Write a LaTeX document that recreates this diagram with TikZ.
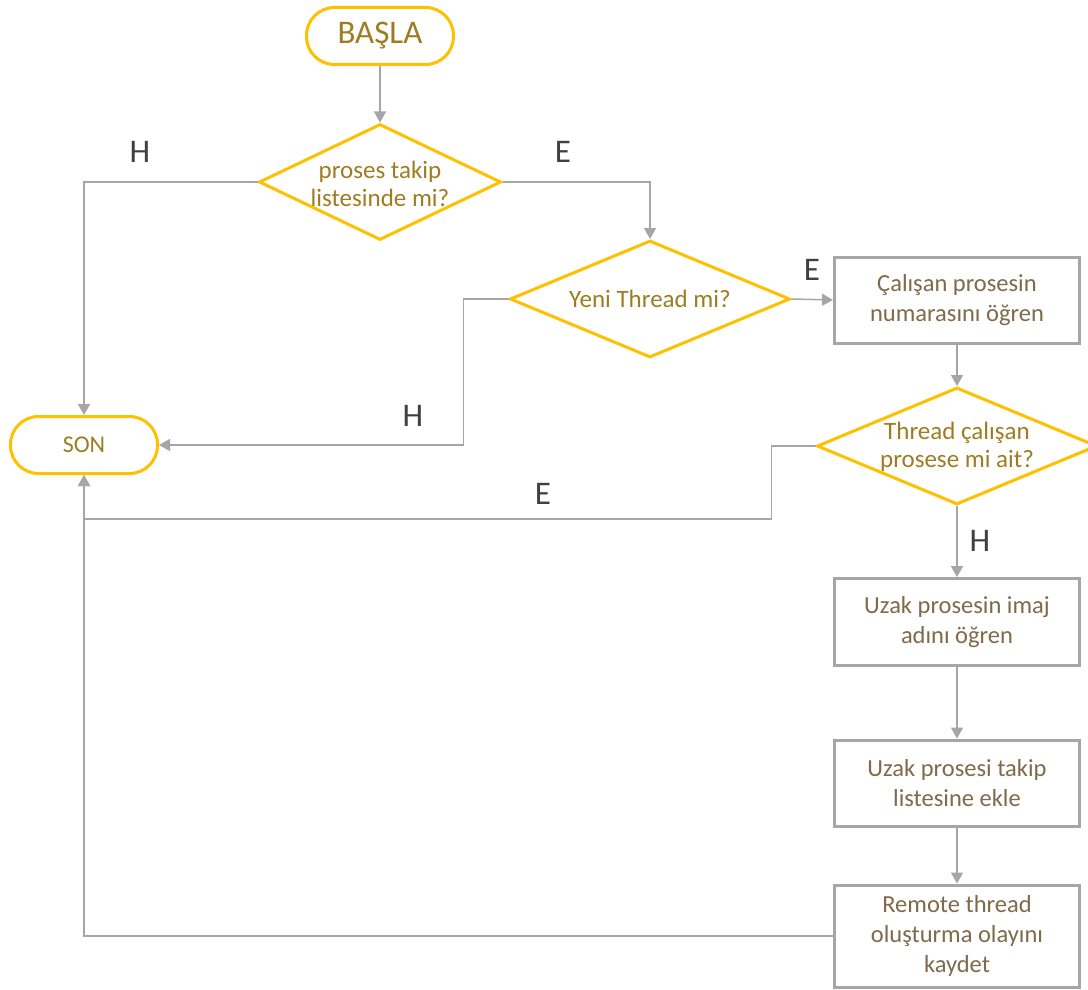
\documentclass[tikz,border=0pt]{standalone}
\usepackage{fontspec}
\setmainfont{Carlito}
\usetikzlibrary{shapes.geometric,arrows.meta}
\definecolor{ylw}{HTML}{FFC000}
\definecolor{gold}{HTML}{9E7D22}
\definecolor{boxtxt}{HTML}{7F6A4A}
\definecolor{boxgray}{HTML}{A6A6A6}
\definecolor{lgray}{HTML}{A6A6A6}
\definecolor{dgray}{HTML}{404040}
\tikzset{
  term/.style={draw=ylw, line width=3pt, rounded corners=28pt, minimum width=147pt, minimum height=57pt, text=gold, inner sep=0pt},
  dia/.style={diamond, draw=ylw, line width=3pt, inner sep=0pt},
  dtext/.style={align=center, text=gold, inner sep=0pt, font=\fontsize{25}{28}\selectfont},
  box/.style={draw=boxgray, line width=3pt, minimum width=245pt, minimum height=86pt, align=center, text=boxtxt, inner sep=0pt, font=\fontsize{24.5}{30}\selectfont},
  conn/.style={draw=lgray, line width=1.5pt, -{Triangle[length=11pt,width=12pt]}},
  lbl/.style={text=dgray, inner sep=0pt, font=\fontsize{33}{36}\selectfont}
}
\begin{document}
\begin{tikzpicture}[x=1pt,y=-1pt]
\useasboundingbox (0,0) rectangle (1088,990);
\fill[white] (0,0) rectangle (1088,990);

\node[term, font=\fontsize{33}{36}\selectfont] (start) at (380,36) {BAŞLA};
\node[term, font=\fontsize{24}{28}\selectfont] (son) at (84,445) {SON};

\node[dia, minimum width=242pt, minimum height=116pt] (d1) at (380,182) {};
\node[dtext] (d1t) at (380,184) {proses takip\\listesinde mi?};

\node[dia, minimum width=280pt, minimum height=117pt] (d2) at (650,299) {};
\node[dtext] (d2t) at (650,299) {Yeni Thread mi?};

\node[box] (b1) at (957,300) {Çalışan prosesin\\numarasını öğren};

\node[dia, minimum width=280pt, minimum height=117pt] (d3) at (957,446) {};
\node[dtext] (d3t) at (957,447) {Thread çalışan\\prosese mi ait?};

\node[box, minimum height=87pt] (b2) at (957,622) {Uzak prosesin imaj\\adını öğren};
\node[box, minimum height=86pt] (b3) at (957,783) {Uzak prosesi takip\\listesine ekle};
\node[box, minimum height=102pt] (b4) at (957,936) {Remote thread\\oluşturma olayını\\kaydet};

\draw[conn] (start) -- (d1);
\draw[conn] (d1.west) -| (son.north);
\draw[conn] (d1.east) -| (d2.north);
\draw[conn] (d2.west) -- ++(-45,0) |- (son.east);
\draw[conn] (d2.east) -- (b1.west);
\draw[conn] (b1) -- (d3);
\draw[conn] (d3.west) -- ++(-44,0) -- ++(0,73) -| (son.south);
\draw[conn] (d3) -- (b2);
\draw[conn] (b2) -- (b3);
\draw[conn] (b3) -- (b4);
\draw[conn] (b4.west) -| (son.south);

\node[lbl] (l1) at (140,152) {H};
\node[lbl] (l2) at (563,152) {E};
\node[lbl] (l3) at (413,416) {H};
\node[lbl] (l4) at (812,270) {E};
\node[lbl] (l5) at (543,494) {E};
\node[lbl] (l6) at (980,541) {H};
\end{tikzpicture}
\end{document}
